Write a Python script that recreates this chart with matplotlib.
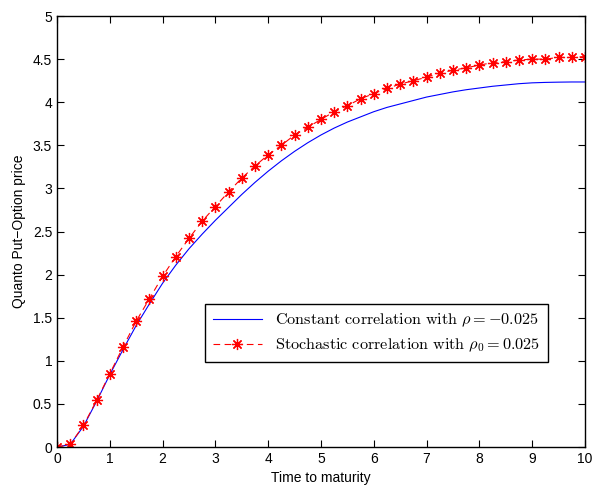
import matplotlib
matplotlib.use("Agg")
import matplotlib.pyplot as plt
import numpy as np

plt.rcParams['font.family'] = ['Liberation Sans', 'DejaVu Sans']
plt.rcParams['mathtext.fontset'] = 'cm'

# time grid (markers every quarter year)
t = np.arange(0, 10.01, 0.25)

# constant correlation, rho = -0.025
const_price = [0.00, 0.03, 0.24, 0.53, 0.84, 1.13, 1.41, 1.66, 1.90, 2.11,
               2.30, 2.47, 2.63, 2.78, 2.93, 3.07, 3.20, 3.32, 3.43, 3.53,
               3.62, 3.70, 3.77, 3.83, 3.89, 3.94, 3.98, 4.02, 4.06, 4.09,
               4.12, 4.145, 4.165, 4.185, 4.20, 4.215, 4.225, 4.23, 4.233, 4.235,
               4.235]

# stochastic correlation, rho_0 = 0.025
stoch_price = [0.00, 0.03, 0.25, 0.54, 0.85, 1.16, 1.46, 1.72, 1.98, 2.21,
               2.42, 2.62, 2.79, 2.96, 3.12, 3.26, 3.39, 3.50, 3.62, 3.71,
               3.80, 3.89, 3.96, 4.04, 4.10, 4.16, 4.21, 4.25, 4.29, 4.34,
               4.37, 4.40, 4.43, 4.46, 4.47, 4.49, 4.50, 4.50, 4.52, 4.52,
               4.53]

fig = plt.figure(figsize=(5.92, 4.86), dpi=100)
ax = fig.add_axes([0.0963, 0.0802, 0.8917, 0.8868])

ax.plot(t, const_price, color='blue', linewidth=0.8,
        label=r'$\mathrm{Constant\ correlation\ with\ }\rho=-0.025$')
ax.plot(t, stoch_price, color='red', linestyle='--', linewidth=0.8,
        marker=(8, 2, 0), markersize=8, markeredgewidth=0.9, dashes=(6, 4),
        label=r'$\mathrm{Stochastic\ correlation\ with\ }\rho_0=0.025$')

ax.set_xlim(0, 10)
ax.set_ylim(0, 5)
ax.set_xticks(np.arange(0, 11, 1))
ax.set_yticks(np.arange(0, 5.01, 0.5))
ax.set_yticklabels(['0', '0.5', '1', '1.5', '2', '2.5', '3', '3.5', '4', '4.5', '5'])
ax.tick_params(direction='in', top=True, right=True, labelsize=10, length=5)
for s in ax.spines.values():
    s.set_linewidth(1.0)

ax.set_xlabel('Time to maturity', fontsize=10, labelpad=4)
ax.set_ylabel('Quanto Put\u2212Option price', fontsize=10, labelpad=5)

leg = ax.legend(loc='lower left', bbox_to_anchor=(0.28, 0.197), fontsize=11.7,
                fancybox=False, framealpha=1, edgecolor='black',
                handlelength=3, borderpad=0.5, labelspacing=0.45,
                borderaxespad=0)
leg.get_frame().set_linewidth(1.0)

fig.savefig('out.png', dpi=100)
